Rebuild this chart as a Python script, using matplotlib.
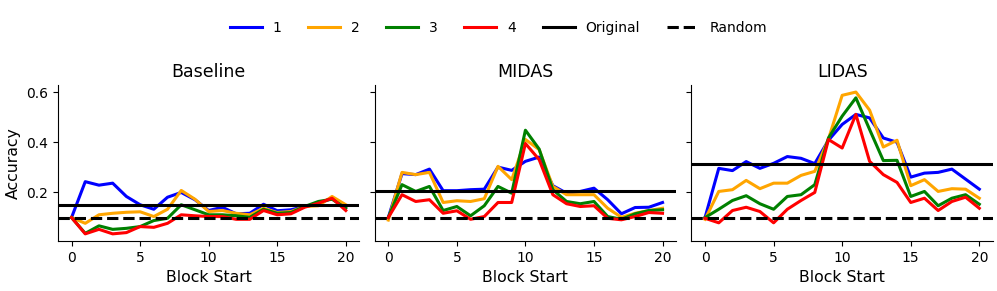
import numpy as np
import matplotlib
matplotlib.use("Agg")
import matplotlib.pyplot as plt

blocks = np.arange(21)
titles = ["Baseline", "MIDAS", "LIDAS"]
labels = ["1", "2", "3", "4"]
colors = ["blue", "orange", "green", "red"]

# accuracy per block start, one list per number of blocks
baseline = [
    [0.10, 0.243, 0.229, 0.237, 0.184, 0.151, 0.133, 0.181, 0.200, 0.171, 0.128,
     0.141, 0.115, 0.117, 0.153, 0.127, 0.131, 0.144, 0.155, 0.177, 0.144],
    [0.10, 0.077, 0.111, 0.117, 0.121, 0.123, 0.104, 0.133, 0.208, 0.173, 0.124,
     0.128, 0.117, 0.111, 0.137, 0.120, 0.124, 0.144, 0.147, 0.184, 0.151],
    [0.10, 0.037, 0.067, 0.053, 0.057, 0.064, 0.088, 0.097, 0.151, 0.131, 0.111,
     0.111, 0.107, 0.101, 0.133, 0.117, 0.120, 0.144, 0.164, 0.173, 0.137],
    [0.10, 0.035, 0.053, 0.035, 0.040, 0.064, 0.061, 0.077, 0.111, 0.107, 0.104,
     0.104, 0.093, 0.093, 0.128, 0.111, 0.115, 0.141, 0.157, 0.177, 0.128],
]
midas = [
    [0.10, 0.275, 0.271, 0.293, 0.207, 0.207, 0.211, 0.213, 0.301, 0.288, 0.324,
     0.341, 0.227, 0.197, 0.204, 0.217, 0.171, 0.115, 0.140, 0.141, 0.160],
    [0.09, 0.280, 0.271, 0.280, 0.160, 0.167, 0.164, 0.175, 0.304, 0.251, 0.411,
     0.371, 0.224, 0.191, 0.191, 0.191, 0.137, 0.101, 0.117, 0.128, 0.137],
    [0.10, 0.231, 0.204, 0.224, 0.128, 0.144, 0.107, 0.147, 0.224, 0.197, 0.448,
     0.373, 0.211, 0.164, 0.155, 0.164, 0.104, 0.093, 0.115, 0.128, 0.131],
    [0.10, 0.191, 0.164, 0.171, 0.117, 0.127, 0.093, 0.104, 0.160, 0.160, 0.395,
     0.331, 0.191, 0.155, 0.144, 0.147, 0.097, 0.091, 0.104, 0.120, 0.117],
]
lidas = [
    [0.10, 0.296, 0.287, 0.323, 0.296, 0.316, 0.343, 0.336, 0.315, 0.408, 0.471,
     0.511, 0.497, 0.417, 0.400, 0.261, 0.277, 0.280, 0.293, 0.253, 0.213],
    [0.093, 0.204, 0.211, 0.248, 0.215, 0.237, 0.237, 0.268, 0.284, 0.413, 0.587,
     0.600, 0.528, 0.381, 0.408, 0.227, 0.251, 0.204, 0.215, 0.213, 0.177],
    [0.10, 0.133, 0.168, 0.187, 0.155, 0.133, 0.184, 0.191, 0.231, 0.417, 0.504,
     0.577, 0.451, 0.327, 0.328, 0.184, 0.204, 0.147, 0.177, 0.191, 0.153],
    [0.097, 0.079, 0.128, 0.141, 0.124, 0.079, 0.133, 0.168, 0.200, 0.411, 0.377,
     0.511, 0.324, 0.271, 0.240, 0.160, 0.177, 0.128, 0.164, 0.181, 0.137],
]
original = [0.151, 0.204, 0.313]
random_acc = 0.1

plt.rcParams["font.family"] = "DejaVu Sans"
fig, axes = plt.subplots(1, 3, figsize=(9.97, 2.91), dpi=100, sharey=True)
fig.subplots_adjust(left=0.058, right=0.996, top=0.708, bottom=0.172, wspace=0.05)

for ax, title, data, orig in zip(axes, titles, [baseline, midas, lidas], original):
    for vals, lab, c in zip(data, labels, colors):
        ax.plot(blocks, vals, color=c, lw=2.2, label=lab)
    ax.axhline(orig, color="black", lw=2.2, label="Original")
    ax.axhline(random_acc, color="black", lw=2.2, ls="--", label="Random")
    ax.set_title(title, fontsize=12.5)
    ax.set_xlabel("Block Start", fontsize=11.3, labelpad=4)
    ax.set_xticks([0, 5, 10, 15, 20])
    ax.tick_params(labelsize=10)
    ax.spines["top"].set_visible(False)
    ax.spines["right"].set_visible(False)

axes[0].set_ylabel("Accuracy", fontsize=11.3)
axes[0].set_yticks([0.2, 0.4, 0.6])

handles, leg_labels = axes[0].get_legend_handles_labels()
fig.legend(handles, leg_labels, loc="center", ncol=6, frameon=False,
           fontsize=10, bbox_to_anchor=(0.5, 1 - 28 / 291), handlelength=2.3,
           handletextpad=0.8, columnspacing=1.9)

fig.savefig("out.png", dpi=100)
